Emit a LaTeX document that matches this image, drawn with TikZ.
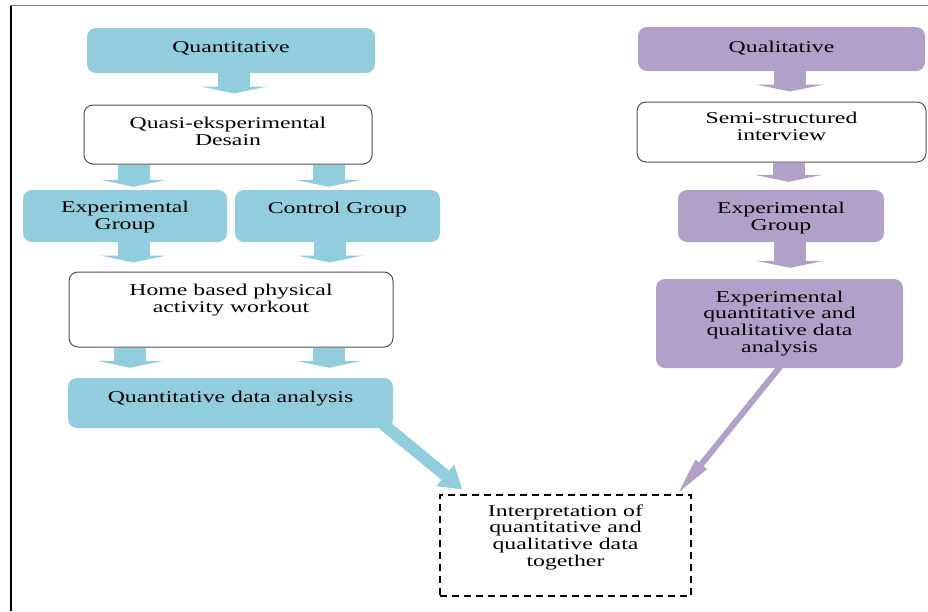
\documentclass[tikz,border=0pt]{standalone}
\usepackage{fontspec}
\setmainfont{Liberation Serif}[FakeStretch=1.44]
\usetikzlibrary{arrows.meta,calc}

\definecolor{qblue}{RGB}{146,205,221}
\definecolor{qpurple}{RGB}{177,160,199}
\definecolor{edge}{RGB}{80,80,80}

\begin{document}
\begin{tikzpicture}[
  x=1pt, y=-1pt,
  font=\fontsize{16.5}{16.8}\selectfont,
  box/.style={rounded corners=9pt, align=center, inner xsep=4pt, inner ysep=0pt},
  bluebox/.style={box, fill=qblue},
  purplebox/.style={box, fill=qpurple},
  whitebox/.style={box, draw=edge, line width=1pt, fill=white},
  dashbox/.style={draw, line width=1.4pt, dash pattern=on 7pt off 5pt,
                  align=center, inner xsep=4pt, inner ysep=0pt},
  tb/.style 2 args={text height=#1, text depth=#2},
  bluebar/.style={qblue, line width=32pt, -{Triangle[length=7pt,width=66pt,line width=0pt]}},
  purplebar/.style={qpurple, line width=32pt, -{Triangle[length=7pt,width=68pt,line width=0pt]}},
  bluelink/.style={qblue, line width=12pt, -{Triangle[length=22pt,width=28pt,line width=0pt]}},
  purplelink/.style={qpurple, line width=6pt, -{Triangle[length=36pt,width=15pt,line width=0pt]}}
]
\useasboundingbox (0,0) rectangle (928,611);
\draw[black, line width=2pt] (10.5,5) -- (10.5,611);
\draw[gray, line width=1.5pt] (10,5.5) -- (928,5.5);

\node[bluebox, minimum width=288pt, tb={24pt}{21pt}] (quant) at (231,50.5) {Quantitative};
\node[whitebox, minimum width=288pt, tb={40pt}{19pt}] (quasi) at (228,134.5) {Quasi-eksperimental\\Desain};
\node[bluebox, minimum width=204pt, tb={39pt}{13pt}] (expL) at (125,216) {Experimental\\Group};
\node[bluebox, minimum width=205pt, tb={23pt}{29pt}] (ctrl) at (337.5,216) {Control Group};
\node[whitebox, minimum width=324pt, tb={40pt}{35pt}] (home) at (231,309.5) {Home based physical\\activity workout};
\node[bluebox, minimum width=325pt, tb={24pt}{26pt}] (qda) at (230.5,403) {Quantitative data analysis};

\node[purplebox, minimum width=287pt, tb={25pt}{19pt}] (qual) at (781.5,49) {Qualitative};
\node[whitebox, minimum width=289pt, tb={38pt}{22pt}] (semi) at (781.5,132) {Semi-structured\\interview};
\node[purplebox, minimum width=206pt, tb={40pt}{12pt}] (expR) at (781,216) {Experimental\\Group};
\node[purplebox, minimum width=247pt, tb={73.4pt}{15.6pt}] (eqq) at (779.5,323.5) {Experimental\\quantitative and\\qualitative data\\analysis};

\node[dashbox, minimum width=251pt, tb={71.4pt}{29.6pt}] (interp) at (565.5,545.5) {Interpretation of\\quantitative and\\qualitative data\\together};

\draw[bluebar] ($(quant.south)+(3,0)$) -- ($(quasi.north)+(6,-11)$);
\draw[bluebar] ($(quasi.south -| expL)+(8.5,0)$) -- ($(expL.north)+(8.5,-3)$);
\draw[bluebar] ($(quasi.south -| ctrl)+(-9,0)$) -- ($(ctrl.north)+(-9,-3)$);
\draw[bluebar] ($(expL.south)+(8.5,0)$) -- ($(home.north -| expL)+(8.5,-9)$);
\draw[bluebar] ($(ctrl.south)+(-7.5,0)$) -- ($(home.north -| ctrl)+(-7.5,-9)$);
\draw[bluebar] ($(home.south -| expL)+(5,0)$) -- ($(qda.north -| expL)+(5,-10)$);
\draw[bluebar] ($(home.south -| ctrl)+(-8.5,0)$) -- ($(qda.north -| ctrl)+(-8.5,-10)$);

\draw[purplebar] ($(qual.south)+(8.5,0)$) -- ($(semi.north)+(8.5,-10)$);
\draw[purplebar] ($(semi.south)+(7,0)$) -- ($(expR.north)+(7.5,-8)$);
\draw[purplebar] ($(expR.south)+(9,0)$) -- ($(eqq.north)+(10.5,-11)$);

\draw[bluelink] ($(qda.south east)+(-10,-4)$) -- ($(interp.north west)+(23,-5)$);
\draw[purplelink] ($(eqq.south)+(1,-2)$) -- ($(interp.north east)+(-13,-2)$);

\end{tikzpicture}
\end{document}
